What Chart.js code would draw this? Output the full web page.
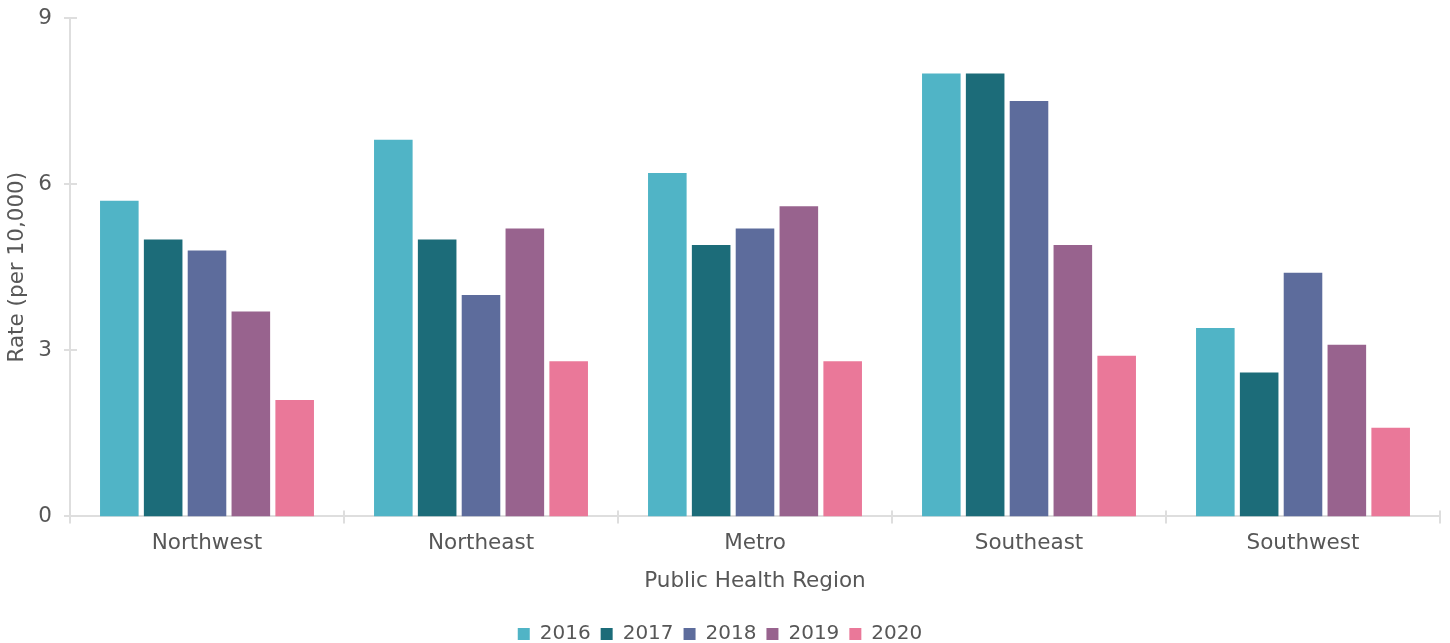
<!DOCTYPE html>
<html>
<head>
<meta charset="utf-8">
<script src="https://cdn.jsdelivr.net/npm/chart.js@4.4.1/dist/chart.umd.min.js"></script>
<style>
  html, body { margin: 0; padding: 0; background: #ffffff; }
  #wrap { width: 1450px; height: 643px; position: relative; }
</style>
</head>
<body>
<div id="wrap"><canvas id="c" width="1450" height="643"></canvas></div>
<script>
const categories = ["Northwest", "Northeast", "Metro", "Southeast", "Southwest"];
const years = ["2016", "2017", "2018", "2019", "2020"];
const values2016 = [5.7, 6.8, 6.2, 8.0, 3.4];
const values2017 = [5.0, 5.0, 4.9, 8.0, 2.6];
const values2018 = [4.8, 4.0, 5.2, 7.5, 4.4];
const values2019 = [3.7, 5.2, 5.6, 4.9, 3.1];
const values2020 = [2.1, 2.8, 2.8, 2.9, 1.6];
const yTicks = [0, 3, 6, 9];
const colors = ["#50b4c6", "#1c6c79", "#5d6c9c", "#98638e", "#ea7899"];

const seriesValues = [values2016, values2017, values2018, values2019, values2020];
const FONT = "'DejaVu Sans', sans-serif";
const TEXT = "#575757";
const AXIS = "#dedede";

const crossTicks = {
  id: "crossTicks",
  afterDraw(chart) {
    const ctx = chart.ctx;
    const x = chart.scales.x, y = chart.scales.y;
    ctx.save();
    ctx.strokeStyle = AXIS;
    ctx.lineWidth = 2;
    ctx.beginPath();
    y.ticks.forEach((t, i) => {
      const py = Math.round(y.getPixelForTick(i));
      ctx.moveTo(x.left - 6, py);
      ctx.lineTo(x.left + 7, py);
    });
    const n = x.ticks.length;
    for (let i = 0; i <= n; i++) {
      const px = Math.round(x.left + i * (x.width / n));
      ctx.moveTo(px, y.bottom - 6);
      ctx.lineTo(px, y.bottom + 7);
    }
    ctx.stroke();
    ctx.restore();
  }
};

new Chart(document.getElementById("c"), {
  type: "bar",
  data: {
    labels: categories,
    datasets: years.map((yr, i) => ({
      label: yr,
      data: seriesValues[i],
      backgroundColor: colors[i],
      borderWidth: 0,
      categoryPercentage: 0.8,
      barPercentage: 0.88
    }))
  },
  options: {
    responsive: false,
    animation: false,
    devicePixelRatio: 1,
    layout: { padding: { top: 18, right: 10, left: 0, bottom: -11 } },
    plugins: {
      legend: {
        position: "bottom",
        labels: {
          boxWidth: 12, boxHeight: 12,
          color: TEXT,
          font: { family: FONT, size: 20 },
          padding: 10
        }
      },
      tooltip: { enabled: false }
    },
    scales: {
      x: {
        grid: { display: false, drawTicks: false },
        border: { display: true, color: AXIS, width: 2 },
        ticks: { color: TEXT, font: { family: FONT, size: 21.5 }, padding: 14 },
        title: { display: true, text: "Public Health Region", color: TEXT, font: { family: FONT, size: 21.5 }, padding: { top: -2, bottom: 20 } }
      },
      y: {
        min: 0, max: 9,
        afterBuildTicks(scale) { scale.ticks = yTicks.map(v => ({ value: v })); },
        afterFit(scale) { scale.width = 70; scale.paddingTop = 0; scale.paddingBottom = 0; },
        grid: { display: false, drawTicks: false },
        border: { display: true, color: AXIS, width: 2 },
        ticks: { color: TEXT, font: { family: FONT, size: 21.5 }, padding: 18 },
        title: { display: true, text: "Rate (per 10,000)", color: TEXT, font: { family: FONT, size: 21.5 }, padding: { top: 5, bottom: 0 } }
      }
    }
  },
  plugins: [crossTicks]
});
</script>
</body>
</html>
